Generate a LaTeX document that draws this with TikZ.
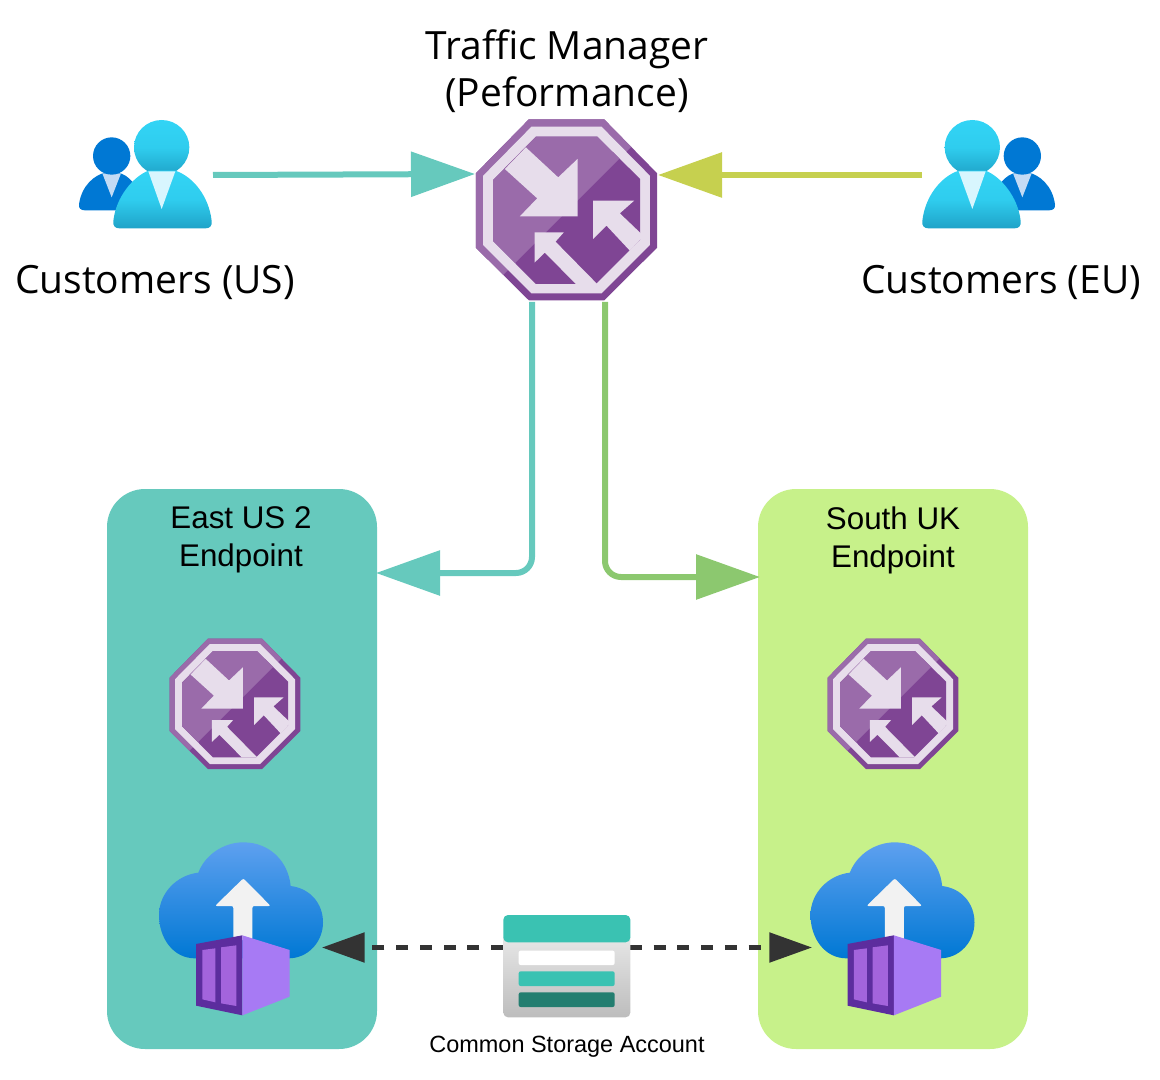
\documentclass[tikz,border=0pt]{standalone}
\usepackage{fontspec}
\setmainfont{Liberation Sans}
\newfontfamily\labelfont{Open Sans}
\usetikzlibrary{arrows.meta}
\definecolor{tealbox}{HTML}{66C9BD}
\definecolor{limebox}{HTML}{C7F18A}
\definecolor{olivearrow}{HTML}{C6D04F}
\definecolor{greenarrow}{HTML}{8CC86F}
\definecolor{dashcol}{HTML}{333333}
\definecolor{tmdark}{HTML}{7F4594}
\definecolor{tmlight}{HTML}{9A6BAA}
\definecolor{tmring}{HTML}{E7DDEB}
\tikzset{
  zone/.style={rounded corners=28.5pt,minimum width=202.5pt,minimum height=420pt,inner sep=0pt},
  slot/.style={inner sep=0pt,outer sep=0pt},
  biglabel/.style={font=\labelfont\fontsize{29.2}{35}\selectfont,align=center,inner sep=0pt},
  zonelabel/.style={font=\fontsize{23.5}{28.5}\selectfont,align=center,inner sep=0pt},
  smalllabel/.style={font=\fontsize{17.6}{21}\selectfont,inner sep=0pt},
  flow/.style={line width=4.5pt,rounded corners=12pt},
  bighead/.style={-{Triangle[length=48pt,width=33pt]}},
  storeflow/.style={dashcol,line width=3.2pt,dash pattern=on 9pt off 8.8pt,
     -{Triangle[length=32pt,width=22pt]}},
}
% #1,#2 centre  #3 scale
\newcommand{\tmicon}[3]{%
\begin{scope}[shift={(#1,#2)},x=#3*0.25pt,y=-#3*0.25pt,shift={(-320,-315)}]
  \def\outerocta{(207,43)--(433,43)--(592,205)--(592,428)--(433,586)--(207,586)--(48,428)--(48,205)--cycle}
  \def\innerocta{(228,95)--(412,95)--(541,222)--(541,404)--(408,537)--(228,537)--(100,408)--(100,225)--cycle}
  \fill[tmdark] \outerocta;
  \begin{scope}
    \clip (0,0)--(640,0)--(0,640)--cycle;
    \fill[tmlight] \outerocta;
  \end{scope}
  \fill[tmring] (215,65)--(425,65)--(570,212)--(570,420)--(425,565)--(215,565)--(70,420)--(70,212)--cycle;
  \fill[tmdark] \innerocta;
  \begin{scope}
    \clip (0,0)--(640,0)--(0,640)--cycle;
    \fill[tmlight] \innerocta;
  \end{scope}
  \fill[tmring] (198,127)--(295,217)--(353,162)--(353,334)--(180,334)--(232,280)--(135,192)--cycle;
  \fill[tmring] (400,287)--(523,287)--(480,325)--(545,387)--(545,400)--(510,437)--(440,362)--(400,402)--cycle;
  \fill[tmring] (224,382)--(312,382)--(287,410)--(412,537)--(348,537)--(255,443)--(224,473)--cycle;
\end{scope}}
% #1 left-of-crop x, #2 top-of-crop y (zoom frame), 
\newcommand{\cloudicon}[2]{%
\begin{scope}[shift={(#1,#2)},x=0.25pt,y=-0.25pt]
  \shade[top color=cloudtop,bottom color=cloudbot]
    (165,385) .. controls (100,385) and (57,325) .. (57,255)
    .. controls (57,190) and (110,135) .. (175,128)
    .. controls (195,75) and (250,37) .. (310,37)
    .. controls (390,37) and (445,95) .. (452,168)
    .. controls (510,175) and (549,220) .. (549,277)
    .. controls (549,335) and (505,385) .. (445,385) -- cycle;
  \fill[arrowwhite,rounded corners=1.5pt] (310,145)--(392,228)--(337,228)--(337,330)--(280,330)--(280,228)--(225,228)--cycle;
  \fill[contdark] (168,342)--(307,316)--(307,556)--(168,527)--cycle;
  \fill[contwin] (187,360)--(226,355)--(226,517)--(187,508)--cycle;
  \fill[contwin] (243,352)--(289,346)--(289,528)--(243,520)--cycle;
  \fill[contlight] (307,316)--(449,360)--(449,500)--(307,556)--cycle;
\end{scope}}
% #1 x origin, #2 x sign
\newcommand{\usersicon}[2]{%
\begin{scope}[shift={(#1,110)},x=#2*0.25pt,y=-0.25pt]
  \fill[userback] (45,301) .. controls (33,301) and (25,295) .. (27,283) .. controls (35,225) and (75,195) .. (105,188)
     -- (145,188) .. controls (175,195) and (205,225) .. (222,283) .. controls (224,295) and (216,301) .. (205,301) -- cycle;
  \fill[usertie] (97,190)--(153,190)--(125,262)--cycle;
  \fill[userback] (125,138) circle[radius=56];
  \shade[top color=userfronta,bottom color=userfrontb,middle color=userfronta!85!userfrontb]
     (275,30) .. controls (321,30) and (358,67) .. (358,112) .. controls (358,158) and (321,195) .. (275,195)
     .. controls (229,195) and (192,158) .. (192,112) .. controls (192,67) and (229,30) .. (275,30) -- cycle;
  \shade[top color=userfronta,bottom color=userfrontb,middle color=userfronta!85!userfrontb]
     (148,355) .. controls (135,355) and (128,347) .. (130,333) .. controls (138,260) and (190,200) .. (235,182) -- (316,182)
     .. controls (370,200) and (417,260) .. (425,333) .. controls (427,347) and (420,355) .. (407,355) -- cycle;
  \fill[usertiefront] (235,184)--(316,184)--(275,297)--cycle;
\end{scope}}
\definecolor{cloudtop}{HTML}{5EA0EF}
\definecolor{cloudbot}{HTML}{0078D4}
\definecolor{arrowwhite}{HTML}{F2F2F2}
\definecolor{contdark}{HTML}{5C2D9E}
\definecolor{contwin}{HTML}{A364DC}
\definecolor{contlight}{HTML}{A77AF4}
\definecolor{userback}{HTML}{0078D4}
\definecolor{usertie}{HTML}{C3DBF5}
\definecolor{userfronta}{HTML}{32D4F5}
\definecolor{userfrontb}{HTML}{1FA3C8}
\definecolor{usertiefront}{HTML}{D8F6FE}
\definecolor{storeteal}{HTML}{3AC2B2}
\definecolor{storedark}{HTML}{237E70}
\begin{document}
\begin{tikzpicture}[x=0.75pt,y=-0.75pt]
\useasboundingbox (0,0) rectangle (1160,1080);
% zones
\node[zone,fill=tealbox] (east) at (242,769) {};
\node[zone,fill=limebox] (uk) at (893,769) {};
% icon slots
\node[slot,minimum size=135.75pt] (tm) at (566.5,210) {};
\node[slot,minimum width=100pt,minimum height=82pt] (usersUS) at (145,174) {};
\node[slot,minimum width=100pt,minimum height=82pt] (usersEU) at (989,174) {};
\node[slot,minimum width=95.25pt,minimum height=76.5pt] (store) at (566.5,966) {};
% ports
\coordinate (usOut) at (213,175);
\coordinate (tmIn1) at (475,174);
\coordinate (euOut) at (922,175);
\coordinate (tmIn2) at (658,175);
\coordinate (tmOut1) at (532,302);
\coordinate (tmOut2) at (605,302);
\coordinate (eastIn) at (376,573);
\coordinate (ukIn) at (760,577);
\coordinate (storeL) at (503,947.5);
\coordinate (storeR) at (630,947.5);
\coordinate (cloudL) at (322,947.5);
\coordinate (cloudR) at (812,947.5);
% connectors
\draw[flow,tealbox,bighead] (usOut) -- (tmIn1);
\draw[flow,olivearrow,bighead] (euOut) -- (tmIn2);
\draw[flow,tealbox,bighead] (tmOut1) |- (eastIn);
\draw[flow,greenarrow,bighead] (tmOut2) |- (ukIn);
\draw[storeflow] (storeL) -- (cloudL);
\draw[storeflow] (storeR) -- (cloudR);
% icons
\tmicon{566.5}{210}{1}
\tmicon{235}{704}{0.72}
\tmicon{893}{704}{0.72}
\usersicon{70}{1}
\usersicon{1064}{-1}
\cloudicon{140}{830}
\cloudicon{791.5}{830}
% storage
\begin{scope}[shift={(480,900)},x=0.25pt,y=-0.25pt]
  \shade[top color=black!9,bottom color=black!26,rounded corners=3.5pt] (70,100) rectangle (451,352);
  \fill[storeteal,rounded corners=3.5pt] (70,127)--(70,45)--(451,45)--(451,127)--cycle;
  \fill[white,rounded corners=1.5pt] (116,152) rectangle (404,195);
  \fill[storeteal,rounded corners=1.5pt] (116,214) rectangle (404,258);
  \fill[storedark,rounded corners=1.5pt] (116,277) rectangle (404,321);
\end{scope}
% labels
\node[biglabel] (tmlabel) at (567,71) {Traffic Manager\\(Peformance)};
\node[biglabel] (uslabel) at (155,282) {Customers (US)};
\node[biglabel] (eulabel) at (1001,282) {Customers (EU)};
\node[zonelabel] (eastlabel) at (241,540) {East US 2\\Endpoint};
\node[zonelabel] (uklabel) at (893,540) {South UK\\Endpoint};
\node[smalllabel] (storelabel) at (567,1047) {Common Storage Account};
\end{tikzpicture}
\end{document}
